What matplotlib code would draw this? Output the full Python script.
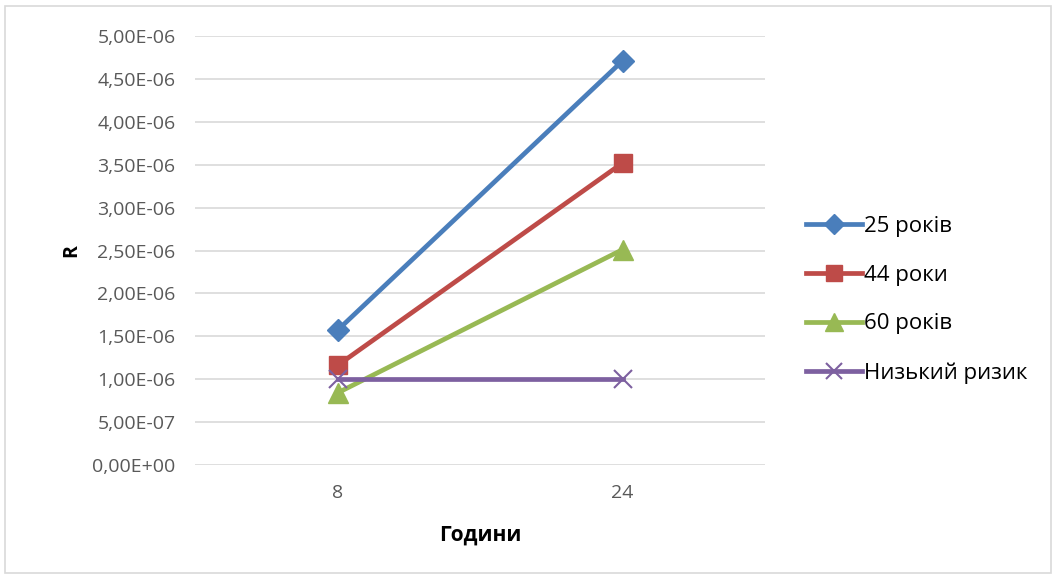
import matplotlib.pyplot as plt
from matplotlib.patches import Rectangle

plt.rcParams['font.family'] = ['Open Sans', 'DejaVu Sans']

hours = ["8", "24"]
risk_25 = [1.57e-6, 4.71e-6]
risk_44 = [1.16e-6, 3.52e-6]
risk_60 = [0.84e-6, 2.51e-6]
low_risk = [1.0e-6, 1.0e-6]
yticks = [0, 0.5e-6, 1e-6, 1.5e-6, 2e-6, 2.5e-6, 3e-6, 3.5e-6, 4e-6, 4.5e-6, 5e-6]

fig = plt.figure(figsize=(10.58, 5.78), dpi=100)
ax = fig.add_axes([195 / 1058, 113 / 578, 570 / 1058, 429 / 578])

x = range(len(hours))
ax.plot(x, risk_25, color="#4A7EBB", lw=3.4, marker="D", ms=11, label="25 років")
ax.plot(x, risk_44, color="#BE4B48", lw=3.4, marker="s", ms=13, label="44 роки")
ax.plot(x, risk_60, color="#98B954", lw=3.4, marker="^", ms=14, label="60 років")
ax.plot(x, low_risk, color="#7D60A0", lw=3.4, marker="x", ms=13, mew=1.5, label="Низький ризик")

ax.set_xlim(-0.5, 1.5)
ax.set_ylim(0, 5e-6)
ax.set_xticks(list(x))
ax.set_xticklabels(hours)
ax.set_yticks(yticks)
ax.set_yticklabels([f"{v:.2E}".replace(".", ",") for v in yticks])
ax.tick_params(length=0, labelsize=14, colors="#595959", pad=14)
ax.tick_params(axis="x", pad=14)
ax.grid(axis="y", color="#D9D9D9", lw=1.2)
ax.set_axisbelow(True)
for s in ax.spines.values():
    s.set_visible(False)

ax.set_ylabel("R", fontsize=14, fontweight="bold", labelpad=8)
ax.set_xlabel("Години", fontsize=15, fontweight="bold", labelpad=16)

ax.legend(loc="center left", bbox_to_anchor=(1.037, 0.385), frameon=False,
          fontsize=16, handlelength=2.5, handletextpad=0.1, labelspacing=1.25,
          markerscale=0.9)

fig.patches.append(Rectangle((5 / 1058, 5 / 578), 1046 / 1058, 567 / 578,
                             transform=fig.transFigure, fill=False,
                             edgecolor="#D9D9D9", lw=1.2))

fig.savefig("out.png", dpi=100)
